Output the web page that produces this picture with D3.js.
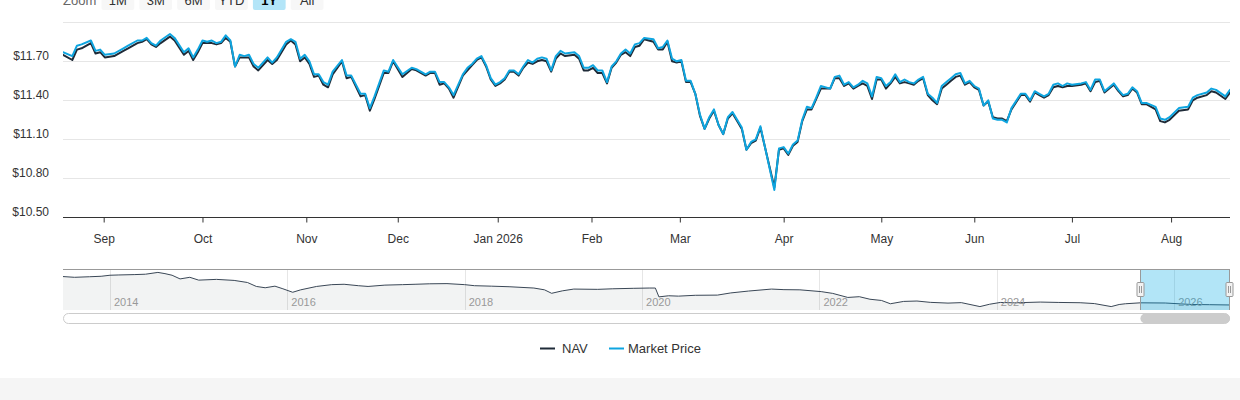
<!DOCTYPE html>
<html>
<head>
<meta charset="utf-8">
<script src="https://cdn.jsdelivr.net/npm/d3@7/dist/d3.min.js"></script>
<style>
  html, body { margin: 0; padding: 0; background: #fff; }
  svg { display: block; font-family: "Liberation Sans", Arial, Helvetica, sans-serif; }
</style>
</head>
<body>
<svg id="chart" width="1240" height="400"></svg>
<script>
// ---------- DATA ----------
// trading-day number (0 = 19 Aug 2025, 251 = 19 Aug 2026)
const days = [
  0,2,3,4,6,7,8,9,11,13,
  14,16,17,18,19,20,21,23,24,26,
  27,28,29,30,31,32,33,34,35,36,
  37,38,39,40,41,42,44,45,46,48,
  49,50,51,52,53,54,55,56,57,58,
  60,61,62,64,65,66,67,69,70,71,
  73,75,76,78,79,80,81,82,83,84,
  86,87,88,89,90,91,92,93,94,95,
  96,97,98,99,100,101,102,103,104,105,
  106,107,108,110,111,112,113,114,115,116,
  117,118,119,120,121,122,123,124,125,127,
  128,129,130,131,132,133,134,135,136,137,
  138,139,140,141,142,143,144,145,146,147,
  148,149,150,153,154,155,156,157,158,159,
  160,161,162,163,165,166,167,168,169,170,
  171,172,173,174,175,176,177,178,179,180,
  181,182,183,184,185,186,187,188,189,190,
  191,192,193,194,195,196,197,198,199,200,
  201,202,203,204,206,207,208,209,210,211,
  212,213,214,215,216,217,219,220,221,222,
  223,224,226,227,228,229,230,231,232,233,
  235,236,237,238,240,242,243,244,246,247,
  248,250,251
];
const marketPrice = [
  11.77,11.74,11.82,11.83,11.86,11.78,11.79,11.75,11.76,11.80,
  11.82,11.86,11.86,11.88,11.84,11.82,11.86,11.91,11.88,11.77,
  11.80,11.73,11.79,11.86,11.85,11.86,11.84,11.85,11.90,11.86,
  11.66,11.75,11.74,11.75,11.68,11.65,11.73,11.69,11.73,11.85,
  11.87,11.85,11.72,11.75,11.70,11.60,11.60,11.54,11.52,11.62,
  11.71,11.59,11.59,11.45,11.45,11.34,11.43,11.63,11.62,11.71,
  11.60,11.65,11.64,11.60,11.62,11.62,11.54,11.54,11.50,11.44,
  11.60,11.65,11.68,11.72,11.74,11.67,11.57,11.52,11.54,11.57,
  11.63,11.63,11.60,11.66,11.71,11.69,11.72,11.73,11.72,11.63,
  11.74,11.78,11.76,11.77,11.74,11.65,11.65,11.67,11.63,11.63,
  11.54,11.66,11.70,11.76,11.79,11.76,11.83,11.84,11.88,11.87,
  11.80,11.81,11.86,11.72,11.70,11.71,11.55,11.55,11.45,11.29,
  11.18,11.27,11.33,11.21,11.14,11.27,11.31,11.25,11.19,11.02,
  11.08,11.10,11.20,10.71,11.03,11.04,10.99,11.06,11.09,11.25,
  11.35,11.34,11.42,11.51,11.49,11.58,11.59,11.52,11.54,11.50,
  11.52,11.55,11.53,11.43,11.58,11.57,11.51,11.54,11.60,11.54,
  11.56,11.54,11.53,11.56,11.58,11.45,11.42,11.38,11.51,11.54,
  11.57,11.60,11.61,11.53,11.55,11.51,11.49,11.36,11.40,11.26,
  11.25,11.25,11.23,11.34,11.45,11.45,11.40,11.47,11.45,11.43,
  11.45,11.52,11.53,11.51,11.53,11.52,11.53,11.54,11.48,11.56,
  11.56,11.47,11.53,11.48,11.44,11.45,11.50,11.47,11.38,11.38,
  11.35,11.26,11.25,11.27,11.34,11.35,11.42,11.44,11.46,11.49,
  11.48,11.43,11.48
];
const nav = [
  11.75,11.71,11.79,11.80,11.84,11.76,11.77,11.73,11.74,11.78,
  11.80,11.84,11.85,11.87,11.83,11.81,11.84,11.89,11.86,11.75,
  11.78,11.71,11.77,11.84,11.84,11.84,11.83,11.84,11.88,11.85,
  11.66,11.73,11.73,11.73,11.66,11.63,11.71,11.68,11.71,11.83,
  11.86,11.83,11.70,11.73,11.68,11.58,11.59,11.52,11.50,11.60,
  11.70,11.57,11.58,11.43,11.44,11.32,11.41,11.61,11.61,11.70,
  11.58,11.64,11.63,11.59,11.61,11.61,11.52,11.53,11.49,11.42,
  11.59,11.63,11.67,11.71,11.73,11.66,11.56,11.51,11.53,11.56,
  11.62,11.62,11.59,11.65,11.69,11.68,11.70,11.71,11.70,11.62,
  11.72,11.76,11.74,11.75,11.72,11.63,11.63,11.65,11.61,11.61,
  11.53,11.65,11.69,11.75,11.77,11.74,11.81,11.82,11.87,11.85,
  11.79,11.79,11.85,11.70,11.69,11.70,11.54,11.54,11.45,11.28,
  11.18,11.26,11.32,11.21,11.14,11.26,11.30,11.24,11.18,11.02,
  11.07,11.09,11.19,10.73,11.02,11.03,10.98,11.05,11.08,11.24,
  11.33,11.33,11.41,11.49,11.49,11.57,11.57,11.51,11.53,11.49,
  11.51,11.53,11.51,11.41,11.56,11.56,11.49,11.53,11.58,11.53,
  11.54,11.53,11.52,11.55,11.57,11.44,11.40,11.37,11.49,11.52,
  11.55,11.58,11.59,11.52,11.54,11.50,11.48,11.36,11.39,11.27,
  11.26,11.26,11.24,11.33,11.44,11.44,11.39,11.46,11.44,11.42,
  11.44,11.50,11.51,11.50,11.51,11.51,11.52,11.53,11.47,11.54,
  11.55,11.46,11.52,11.47,11.43,11.44,11.49,11.46,11.37,11.37,
  11.33,11.24,11.23,11.25,11.32,11.33,11.40,11.42,11.44,11.47,
  11.46,11.41,11.46
];
// month tick labels and their trading-day positions
const monthLabels = ["Sep","Oct","Nov","Dec","Jan 2026","Feb","Mar","Apr","May","Jun","Jul","Aug"];
const monthDays   = [8.75, 30, 52.33, 72, 93.5, 113.67, 132.67, 155, 176, 196, 217, 238.33];
const dayRange = [0, 251];
const yTicks = [10.5, 10.8, 11.1, 11.4, 11.7, 12.0];
const yLabelTicks = [10.5, 10.8, 11.1, 11.4, 11.7];

// full history for navigator (year fraction, NAV)
const historyYear = [
  2013.47,2013.60,2013.77,2013.90,2014.00,2014.10,2014.28,2014.40,2014.54,2014.62,
  2014.70,2014.79,2014.90,2015.00,2015.20,2015.40,2015.55,2015.65,2015.75,2015.86,
  2015.95,2016.06,2016.15,2016.33,2016.50,2016.64,2016.80,2016.91,2017.10,2017.30,
  2017.44,2017.60,2017.80,2018.00,2018.11,2018.30,2018.50,2018.78,2018.90,2018.98,
  2019.10,2019.23,2019.50,2019.67,2019.90,2020.08,2020.15,2020.19,2020.30,2020.41,
  2020.60,2020.85,2021.00,2021.20,2021.46,2021.60,2021.78,2022.02,2022.15,2022.32,
  2022.45,2022.57,2022.70,2022.80,2022.95,2023.10,2023.25,2023.45,2023.60,2023.81,
  2023.92,2024.04,2024.20,2024.49,2024.70,2024.94,2025.10,2025.29,2025.38,2025.45,
  2025.62,2025.90,2026.20,2026.40,2026.63];
const historyNav = [
  14.49,14.41,14.47,14.52,14.63,14.66,14.70,14.74,14.93,14.80,
  14.63,14.24,14.41,14.11,14.19,14.08,13.86,13.44,13.30,13.47,
  13.19,12.82,13.08,13.44,13.63,13.67,13.52,13.44,13.58,13.63,
  13.67,13.72,13.74,13.63,13.52,13.47,13.41,13.27,13.08,12.71,
  12.97,13.16,13.13,13.19,13.24,13.27,13.27,12.33,12.45,12.41,
  12.50,12.52,12.75,12.95,13.16,13.10,13.08,12.89,12.70,12.27,
  12.35,12.08,11.95,11.60,11.85,11.89,11.75,11.67,11.72,11.30,
  11.55,11.74,11.70,11.78,11.74,11.71,11.62,11.30,11.52,11.60,
  11.70,11.68,11.52,11.50,11.47];
const navYearTicks = [2014, 2016, 2018, 2020, 2022, 2024, 2026];
const selectedRange = [2025.62, 2026.63];

const rangeButtons = ["1M","3M","6M","YTD","1Y","All"];
const selectedButton = "1Y";
const seriesNames = ["NAV", "Market Price"];
const seriesColors = ["#1f2b38", "#0ea5e0"];

// ---------- DRAW ----------
const svg = d3.select("#chart");
const W = 1240;
const plot = {left: 63, right: 1230, top: 22.3, bottom: 217.3};

svg.append("rect").attr("x", 0).attr("y", 0).attr("width", W).attr("height", 400).attr("fill", "#fff");
svg.append("rect").attr("x", 0).attr("y", 378).attr("width", W).attr("height", 22).attr("fill", "#f5f5f5");

// range selector (partly above the top edge, as in the original)
svg.append("text").attr("x", 63).attr("y", 4.5).attr("font-size", 13).attr("fill", "#666").text("Zoom");
const btnX = d3.scaleBand().domain(rangeButtons).range([101.5, 101.5 + 37 * rangeButtons.length]).paddingInner(5/37).paddingOuter(0);
const btns = svg.append("g").selectAll("g").data(rangeButtons).join("g");
btns.append("rect")
  .attr("x", d => btnX(d)).attr("y", -13).attr("width", btnX.bandwidth()).attr("height", 23).attr("rx", 2)
  .attr("fill", d => d === selectedButton ? "#b3e5f8" : "#f7f7f7");
btns.append("text")
  .attr("x", d => btnX(d) + btnX.bandwidth() / 2).attr("y", 4.5).attr("text-anchor", "middle")
  .attr("font-size", 13).attr("fill", d => d === selectedButton ? "#000" : "#333")
  .attr("font-weight", d => d === selectedButton ? "bold" : "normal").text(d => d);

// scales
const x = d3.scaleLinear().domain(dayRange).range([plot.left, plot.right]);
const y = d3.scaleLinear().domain([10.5, 12.0]).range([plot.bottom, plot.top]);

// grid
svg.append("g").selectAll("line").data(yTicks.filter(t => t > 10.5)).join("line")
  .attr("x1", plot.left).attr("x2", plot.right)
  .attr("y1", d => Math.round(y(d)) + 0.5).attr("y2", d => Math.round(y(d)) + 0.5)
  .attr("stroke", "#e6e6e6").attr("stroke-width", 1);

// y labels
svg.append("g").selectAll("text").data(yLabelTicks).join("text")
  .attr("x", 49).attr("y", d => y(d) - 1.5).attr("text-anchor", "end")
  .attr("font-size", 12).attr("fill", "#333").text(d => "$" + d.toFixed(2));

// x axis
const xAxis = d3.axisBottom(x).tickValues(monthDays).tickSize(5).tickFormat((d, i) => monthLabels[i]);
const gx = svg.append("g").attr("transform", `translate(0,${Math.round(plot.bottom) + 0.5})`).call(xAxis);
gx.select(".domain").attr("stroke", "#333").attr("d", `M${plot.left},0H${plot.right}`);
gx.selectAll(".tick line").attr("stroke", "#333");
gx.selectAll(".tick text").attr("font-size", 12).attr("fill", "#333").attr("dy", 0).attr("y", 25)
  .attr("font-family", "'Liberation Sans', Arial, sans-serif");

// lines
svg.append("defs").append("clipPath").attr("id", "plotClip").append("rect")
  .attr("x", plot.left).attr("y", 0).attr("width", plot.right - plot.left).attr("height", plot.bottom);
const line = vals => d3.line().x((d, i) => x(days[i])).y(d => y(d))(vals);
const gLines = svg.append("g").attr("clip-path", "url(#plotClip)");
[nav, marketPrice].forEach((vals, k) => {
  gLines.append("path").attr("d", line(vals)).attr("fill", "none")
    .attr("stroke", seriesColors[k]).attr("stroke-width", 2)
    .attr("stroke-linejoin", "round").attr("stroke-linecap", "round");
});

// navigator
const nav0 = {top: 269, bottom: 310};
const nx = d3.scaleLinear().domain(d3.extent(historyYear)).range([plot.left, plot.right]);
const [hmin, hmax] = d3.extent(historyNav);
const pad = (hmax - hmin) * 0.1;
const ny = d3.scaleLinear().domain([hmin - pad, hmax + pad]).range([nav0.bottom, nav0.top]);
const gn = svg.append("g");
gn.selectAll("line.ng").data(navYearTicks).join("line").attr("class", "ng")
  .attr("x1", d => Math.round(nx(d)) + 0.5).attr("x2", d => Math.round(nx(d)) + 0.5)
  .attr("y1", nav0.top).attr("y2", nav0.bottom).attr("stroke", "#e6e6e6");
gn.append("path")
  .attr("d", d3.area().x((d, i) => nx(historyYear[i])).y0(nav0.bottom).y1(d => ny(d))(historyNav))
  .attr("fill", "#1f2b38").attr("fill-opacity", 0.06);
gn.append("path")
  .attr("d", d3.line().x((d, i) => nx(historyYear[i])).y(d => ny(d))(historyNav))
  .attr("fill", "none").attr("stroke", "#3a4756").attr("stroke-width", 1);
gn.selectAll("text").data(navYearTicks).join("text")
  .attr("x", d => nx(d) + 4).attr("y", 306).attr("font-size", 11).attr("fill", "#999").text(d => d);
const sx0 = nx(selectedRange[0]), sx1 = nx(selectedRange[1]);
gn.append("rect").attr("x", sx0).attr("y", nav0.top).attr("width", sx1 - sx0).attr("height", nav0.bottom - nav0.top)
  .attr("fill", "rgba(0,169,228,0.3)");
gn.append("path")
  .attr("d", `M${plot.left},${nav0.top + 0.5}H${plot.right}M${Math.round(sx0) + 0.5},${nav0.top}V${nav0.bottom}M${Math.round(sx1) - 0.5},${nav0.top}V${nav0.bottom}`)
  .attr("stroke", "#999").attr("fill", "none");
[sx0, sx1 - 1].forEach(hx => {
  const cx = Math.round(hx) + 0.5;
  gn.append("rect").attr("x", cx - 3.5).attr("y", 282.5).attr("width", 7).attr("height", 14).attr("rx", 1)
    .attr("fill", "#f2f2f2").attr("stroke", "#999");
  gn.append("path").attr("d", `M${cx - 1},286V293M${cx + 1},286V293`).attr("stroke", "#999");
});

// scrollbar
svg.append("rect").attr("x", plot.left + 0.5).attr("y", 313.5).attr("width", plot.right - plot.left - 1).attr("height", 10)
  .attr("rx", 5).attr("fill", "#fff").attr("stroke", "#ccc");
svg.append("rect").attr("x", sx0).attr("y", 313.5).attr("width", sx1 - sx0).attr("height", 10)
  .attr("rx", 5).attr("fill", "#ccc");

// legend
const legX = [540, 609];
const legTextX = [562, 628];
const lg = svg.append("g");
seriesNames.forEach((name, k) => {
  lg.append("line").attr("x1", legX[k]).attr("x2", legX[k] + 15).attr("y1", 348.5).attr("y2", 348.5)
    .attr("stroke", seriesColors[k]).attr("stroke-width", 2);
  lg.append("text").attr("x", legTextX[k]).attr("y", 353).attr("font-size", 13).attr("fill", "#333").text(name);
});
</script>
</body>
</html>
